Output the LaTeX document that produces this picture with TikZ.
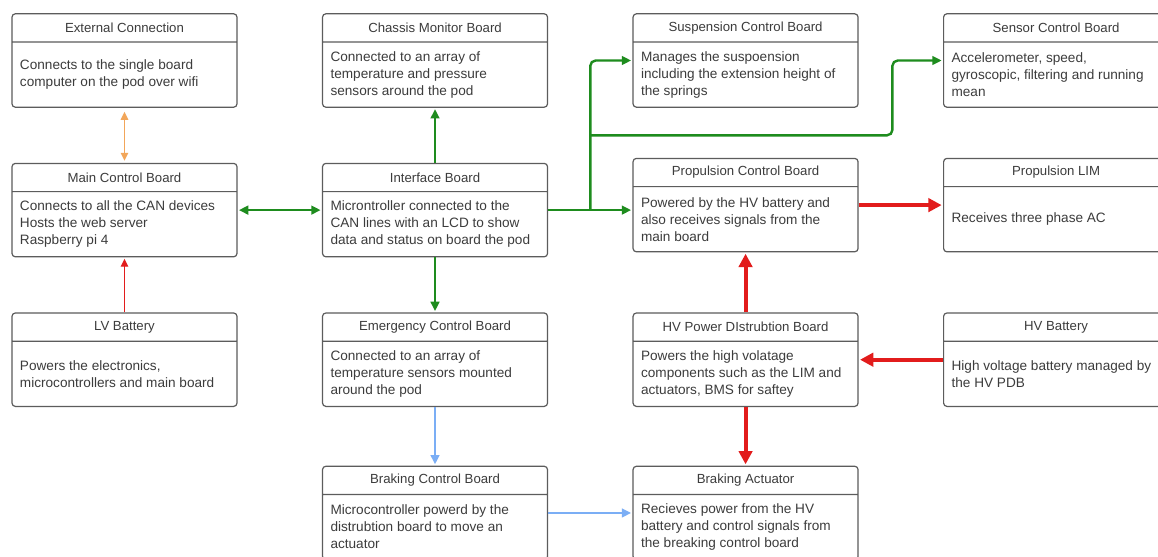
\documentclass[tikz,border=0pt]{standalone}
\usepackage{fontspec}
\setmainfont{Liberation Sans}
\usepackage{tikz}
\usetikzlibrary{arrows.meta, positioning, shapes.multipart, calc}
\usepackage{xcolor}
\definecolor{boxline}{HTML}{5C5C5C}
\definecolor{boxtext}{HTML}{3C3C3C}
\definecolor{cangreen}{HTML}{1E8C1E}
\definecolor{wifiorange}{HTML}{F2A65A}
\definecolor{powerred}{HTML}{E21C1C}
\definecolor{brakeblue}{HTML}{7BAEF5}

\newcommand{\boardtext}[2]{%
  \parbox[c][20.25pt]{168.75pt}{\centering\fontsize{9.9pt}{11pt}\selectfont #1}%
  \nodepart{two}%
  \hspace*{6pt}\parbox[c][48pt]{162.75pt}{\raggedright\fontsize{10.2pt}{12.75pt}\selectfont #2}}

\begin{document}
\begin{tikzpicture}[
  x=0.75pt, y=-0.75pt,
  node distance=41.25pt and 63.25pt,
  board/.style={
    rectangle split, rectangle split parts=2, draw=boxline,
    line width=0.9pt, rounded corners=2.5pt, inner sep=0pt,
    text=boxtext
  },
  canlink/.style={draw=cangreen, line width=1.8pt, shorten >=1pt,
    -{Triangle[length=7pt, width=6.5pt]}},
  wifilink/.style={draw=wifiorange, line width=1.3pt, shorten >=1.5pt, shorten <=3pt,
    {Triangle[length=6pt, width=5.5pt]}-{Triangle[length=6pt, width=5.5pt]}},
  hvlink/.style={draw=powerred, line width=3pt, shorten >=1pt,
    -{Triangle[length=10pt, width=10pt]}},
  lvlink/.style={draw=powerred, line width=1.1pt, shorten >=1pt,
    -{Triangle[length=6pt, width=5.5pt]}},
  brakelink/.style={draw=brakeblue, line width=1.8pt, shorten >=1pt,
    -{Triangle[length=7pt, width=6.5pt]}}
]
  \fill[white] (0,0) rectangle (1158,557);
  \useasboundingbox (0,0) rectangle (1158,557);

  \node[board] (ext) at (124.5,60.5) {\boardtext{External Connection}
    {Connects to the single board\\computer on the pod over wifi}};
  \node[board] (chassis) [right=of ext] {\boardtext{Chassis Monitor Board}
    {Connected to an array of\\temperature and pressure\\sensors around the pod}};
  \node[board] (susp) [right=of chassis] {\boardtext{Suspension Control Board}
    {Manages the suspoension\\including the extension height of\\the springs}};
  \node[board] (sensor) [right=of susp] {\boardtext{Sensor Control Board}
    {Accelerometer, speed,\\gyroscopic, filtering and running\\mean}};

  \node[board] (main) [below=of ext] {\boardtext{Main Control Board}
    {Connects to all the CAN devices\\Hosts the web server\\Raspberry pi 4}};
  \node[board] (iface) [right=of main] {\boardtext{Interface Board}
    {Microntroller connected to the\\CAN lines with an LCD to show\\data and status on board the pod}};
  \node[board] (prop) [right=of iface, yshift=3.75pt] {\boardtext{Propulsion Control Board}
    {Powered by the HV battery and\\also receives signals from the\\main board}};
  \node[board] (lim) [right=of prop] {\boardtext{Propulsion LIM}
    {Receives three phase AC}};

  \node[board] (lv) [below=of main] {\boardtext{LV Battery}
    {Powers the electronics,\\microcontrollers and main board}};
  \node[board] (emerg) [right=of lv] {\boardtext{Emergency Control Board}
    {Connected to an array of\\temperature sensors mounted\\around the pod}};
  \node[board] (hvpdb) [right=of emerg] {\boardtext{HV Power DIstrubtion Board}
    {Powers the high volatage\\components such as the LIM and\\actuators, BMS for saftey}};
  \node[board] (hvbat) [right=of hvpdb] {\boardtext{HV Battery}
    {High voltage battery managed by\\the HV PDB}};

  \node[board] (brake) [below=44pt of emerg] {\boardtext{Braking Control Board}
    {Microcontroller powerd by the\\distrubtion board to move an\\actuator}};
  \node[board] (brakeact) [right=of brake] {\boardtext{Braking Actuator}
    {Recieves power from the HV\\battery and control signals from\\the breaking control board}};

  \coordinate (split) at ($(iface.east)!0.5!(iface.east -| prop.west)$);
  \coordinate (fork)  at ($(chassis.south)!0.5!(iface.north)$);
  \coordinate (turn)  at ($(susp.east)!0.4!(sensor.west)$);

  \draw[wifilink] (ext.south) -- (main.north);
  \draw[lvlink] (lv.north) -- (main.south);

  \draw[canlink, {Triangle[length=7pt, width=6.5pt]}-{Triangle[length=7pt, width=6.5pt]},
    shorten <=1pt] (main.east) -- (iface.west);
  \draw[canlink] (iface.north) -- (chassis.south);
  \draw[canlink] (iface.south) -- (emerg.north);
  \draw[canlink] (iface.east) -- (iface.east -| prop.west);
  \draw[canlink, rounded corners=4pt] (split) |- (susp.west);
  \draw[canlink, rounded corners=4pt] (split |- fork) -| (turn) -- (sensor.west);

  \draw[hvlink] (prop.east) -- (lim.west);
  \draw[hvlink] (hvpdb.north) -- (prop.south);
  \draw[hvlink] (hvbat.west) -- (hvpdb.east);
  \draw[hvlink] (hvpdb.south) -- (brakeact.north);

  \draw[brakelink] (emerg.south) -- (brake.north);
  \draw[brakelink] (brake.east) -- (brakeact.west);
\end{tikzpicture}
\end{document}
